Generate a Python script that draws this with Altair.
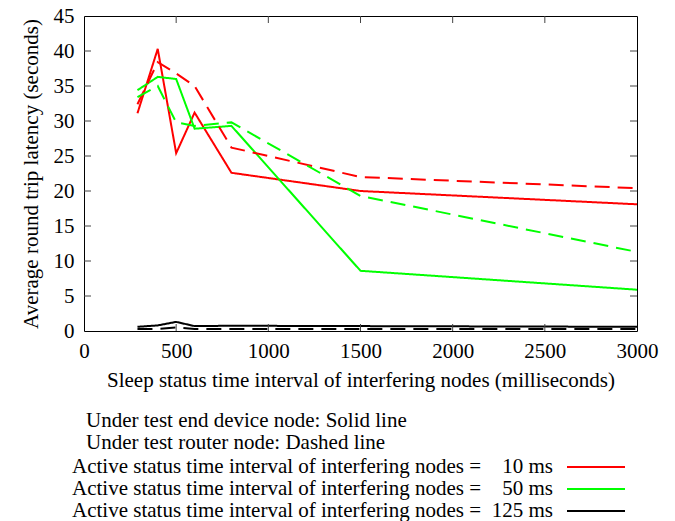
import altair as alt
import pandas as pd

# ---- data ----
x_ms = [290, 400, 500, 600, 800, 1500, 3000]
red_solid = [31.1, 40.3, 25.4, 31.2, 22.6, 20.0, 18.1]
green_solid = [34.4, 36.3, 36.0, 28.9, 29.3, 8.6, 5.9]
black_solid = [0.6, 0.8, 1.3, 0.7, 0.75, 0.7, 0.6]
red_dashed = [32.4, 38.4, 36.8, 35.0, 26.2, 22.0, 20.4]
green_dashed = [33.4, 35.0, 29.8, 29.3, 29.8, 19.3, 11.3]
black_dashed = [0.3, 0.3, 0.5, 0.3, 0.3, 0.3, 0.3]

x_ticks = [0, 500, 1000, 1500, 2000, 2500, 3000]
y_ticks = [0, 5, 10, 15, 20, 25, 30, 35, 40, 45]

intervals = ["10 ms", "50 ms", "125 ms"]
colors = ["#ff0000", "#00ff00", "#000000"]
nodes = ["end device", "router"]

note_lines = ["Under test end device node: Solid line",
              "Under test router node: Dashed line"]
key_prefix = "Active status time interval of interfering nodes ="

series = [
    ("10 ms", "end device", red_solid),
    ("50 ms", "end device", green_solid),
    ("125 ms", "end device", black_solid),
    ("10 ms", "router", red_dashed),
    ("50 ms", "router", green_dashed),
    ("125 ms", "router", black_dashed),
]
rows = []
for i, (iv, nd, ys) in enumerate(series):
    for xv, yv in zip(x_ms, ys):
        rows.append({"x": xv, "y": yv, "interval": iv, "node": nd, "sid": i})
df = pd.DataFrame(rows)

W, H = 553, 315
FONT = "Liberation Serif"
FS = 21

xs = alt.Scale(domain=[0, 3000], nice=False, zero=False)
ys_ = alt.Scale(domain=[0, 45], nice=False)
X_TITLE = "Sleep status time interval of interfering nodes (milliseconds)"
Y_TITLE = "Average round trip latency (seconds)"
x_axis = alt.Axis(values=x_ticks, format="d", labelFlush=False, labelOverlap=False,
                  ticks=False, domain=False, grid=False, labelPadding=9, titlePadding=8)
y_axis = alt.Axis(values=y_ticks, format="d", labelOverlap=False, labelFlush=False,
                  ticks=False, domain=False, grid=False, labelPadding=10, titlePadding=12)

lines = alt.Chart(df).mark_line(strokeWidth=2, clip=True).encode(
    x=alt.X("x:Q", scale=xs, axis=x_axis, title=X_TITLE),
    y=alt.Y("y:Q", scale=ys_, axis=y_axis, title=Y_TITLE),
    color=alt.Color("interval:N", scale=alt.Scale(domain=intervals, range=colors), legend=None),
    strokeDash=alt.StrokeDash("node:N", scale=alt.Scale(domain=nodes, range=[[1, 0], [15, 8]]), legend=None),
    detail="sid:N",
    order="x:Q",
)

xt = pd.DataFrame({"t": x_ticks[1:-1]})
yt = pd.DataFrame({"t": y_ticks[1:-1]})
TL = 7
tick_col = "#444444"
xb = alt.Chart(xt).mark_rule(color=tick_col, strokeWidth=1).encode(
    x=alt.X("t:Q", scale=xs, axis=x_axis, title=X_TITLE), y=alt.value(H), y2=alt.value(H - TL))
xtop = alt.Chart(xt).mark_rule(color=tick_col, strokeWidth=1).encode(
    x=alt.X("t:Q", scale=xs, axis=x_axis, title=X_TITLE), y=alt.value(0), y2=alt.value(TL))
yl = alt.Chart(yt).mark_rule(color=tick_col, strokeWidth=1).encode(
    y=alt.Y("t:Q", scale=ys_, axis=y_axis, title=Y_TITLE), x=alt.value(0), x2=alt.value(TL))
yr = alt.Chart(yt).mark_rule(color=tick_col, strokeWidth=1).encode(
    y=alt.Y("t:Q", scale=ys_, axis=y_axis, title=Y_TITLE), x=alt.value(W), x2=alt.value(W - TL))

layers = [lines, xb, xtop, yl, yr]

# key / notes below the plot (positions relative to plot origin)
OX, OY = 84, 16
for i, txt in enumerate(note_lines):
    layers.append(alt.Chart(pd.DataFrame({"t": [txt]})).mark_text(
        font=FONT, fontSize=FS, align="left", baseline="middle", color="black").encode(
        text="t:N", x=alt.value(86 - OX), y=alt.value(421 - OY + i * 22)))
for i, (iv, col) in enumerate(zip(intervals, colors)):
    yy = 467 - OY + i * 22
    layers.append(alt.Chart(pd.DataFrame({"t": [key_prefix]})).mark_text(
        font=FONT, fontSize=FS, align="right", baseline="middle", color="black").encode(
        text="t:N", x=alt.value(481 - OX), y=alt.value(yy)))
    layers.append(alt.Chart(pd.DataFrame({"t": [iv]})).mark_text(
        font=FONT, fontSize=FS, align="right", baseline="middle", color="black").encode(
        text="t:N", x=alt.value(553 - OX), y=alt.value(yy)))
    layers.append(alt.Chart(pd.DataFrame({"c": [iv]})).mark_rule(strokeWidth=2, color=col).encode(
        x=alt.value(567 - OX), x2=alt.value(625 - OX), y=alt.value(yy)))

chart = alt.layer(*layers).properties(
    width=W, height=H,
    autosize=alt.AutoSizeParams(type="none"),
    padding={"left": OX, "top": OY, "right": 675 - OX - W, "bottom": 521 - OY - H},
    background="white",
).configure_view(stroke="black", strokeWidth=1).configure_axis(
    labelFont=FONT, labelFontSize=FS, labelColor="black",
    titleFont=FONT, titleFontSize=FS, titleColor="black", titleFontWeight="normal",
)

chart.save("out.html", embed_options={"renderer": "svg", "actions": False})
